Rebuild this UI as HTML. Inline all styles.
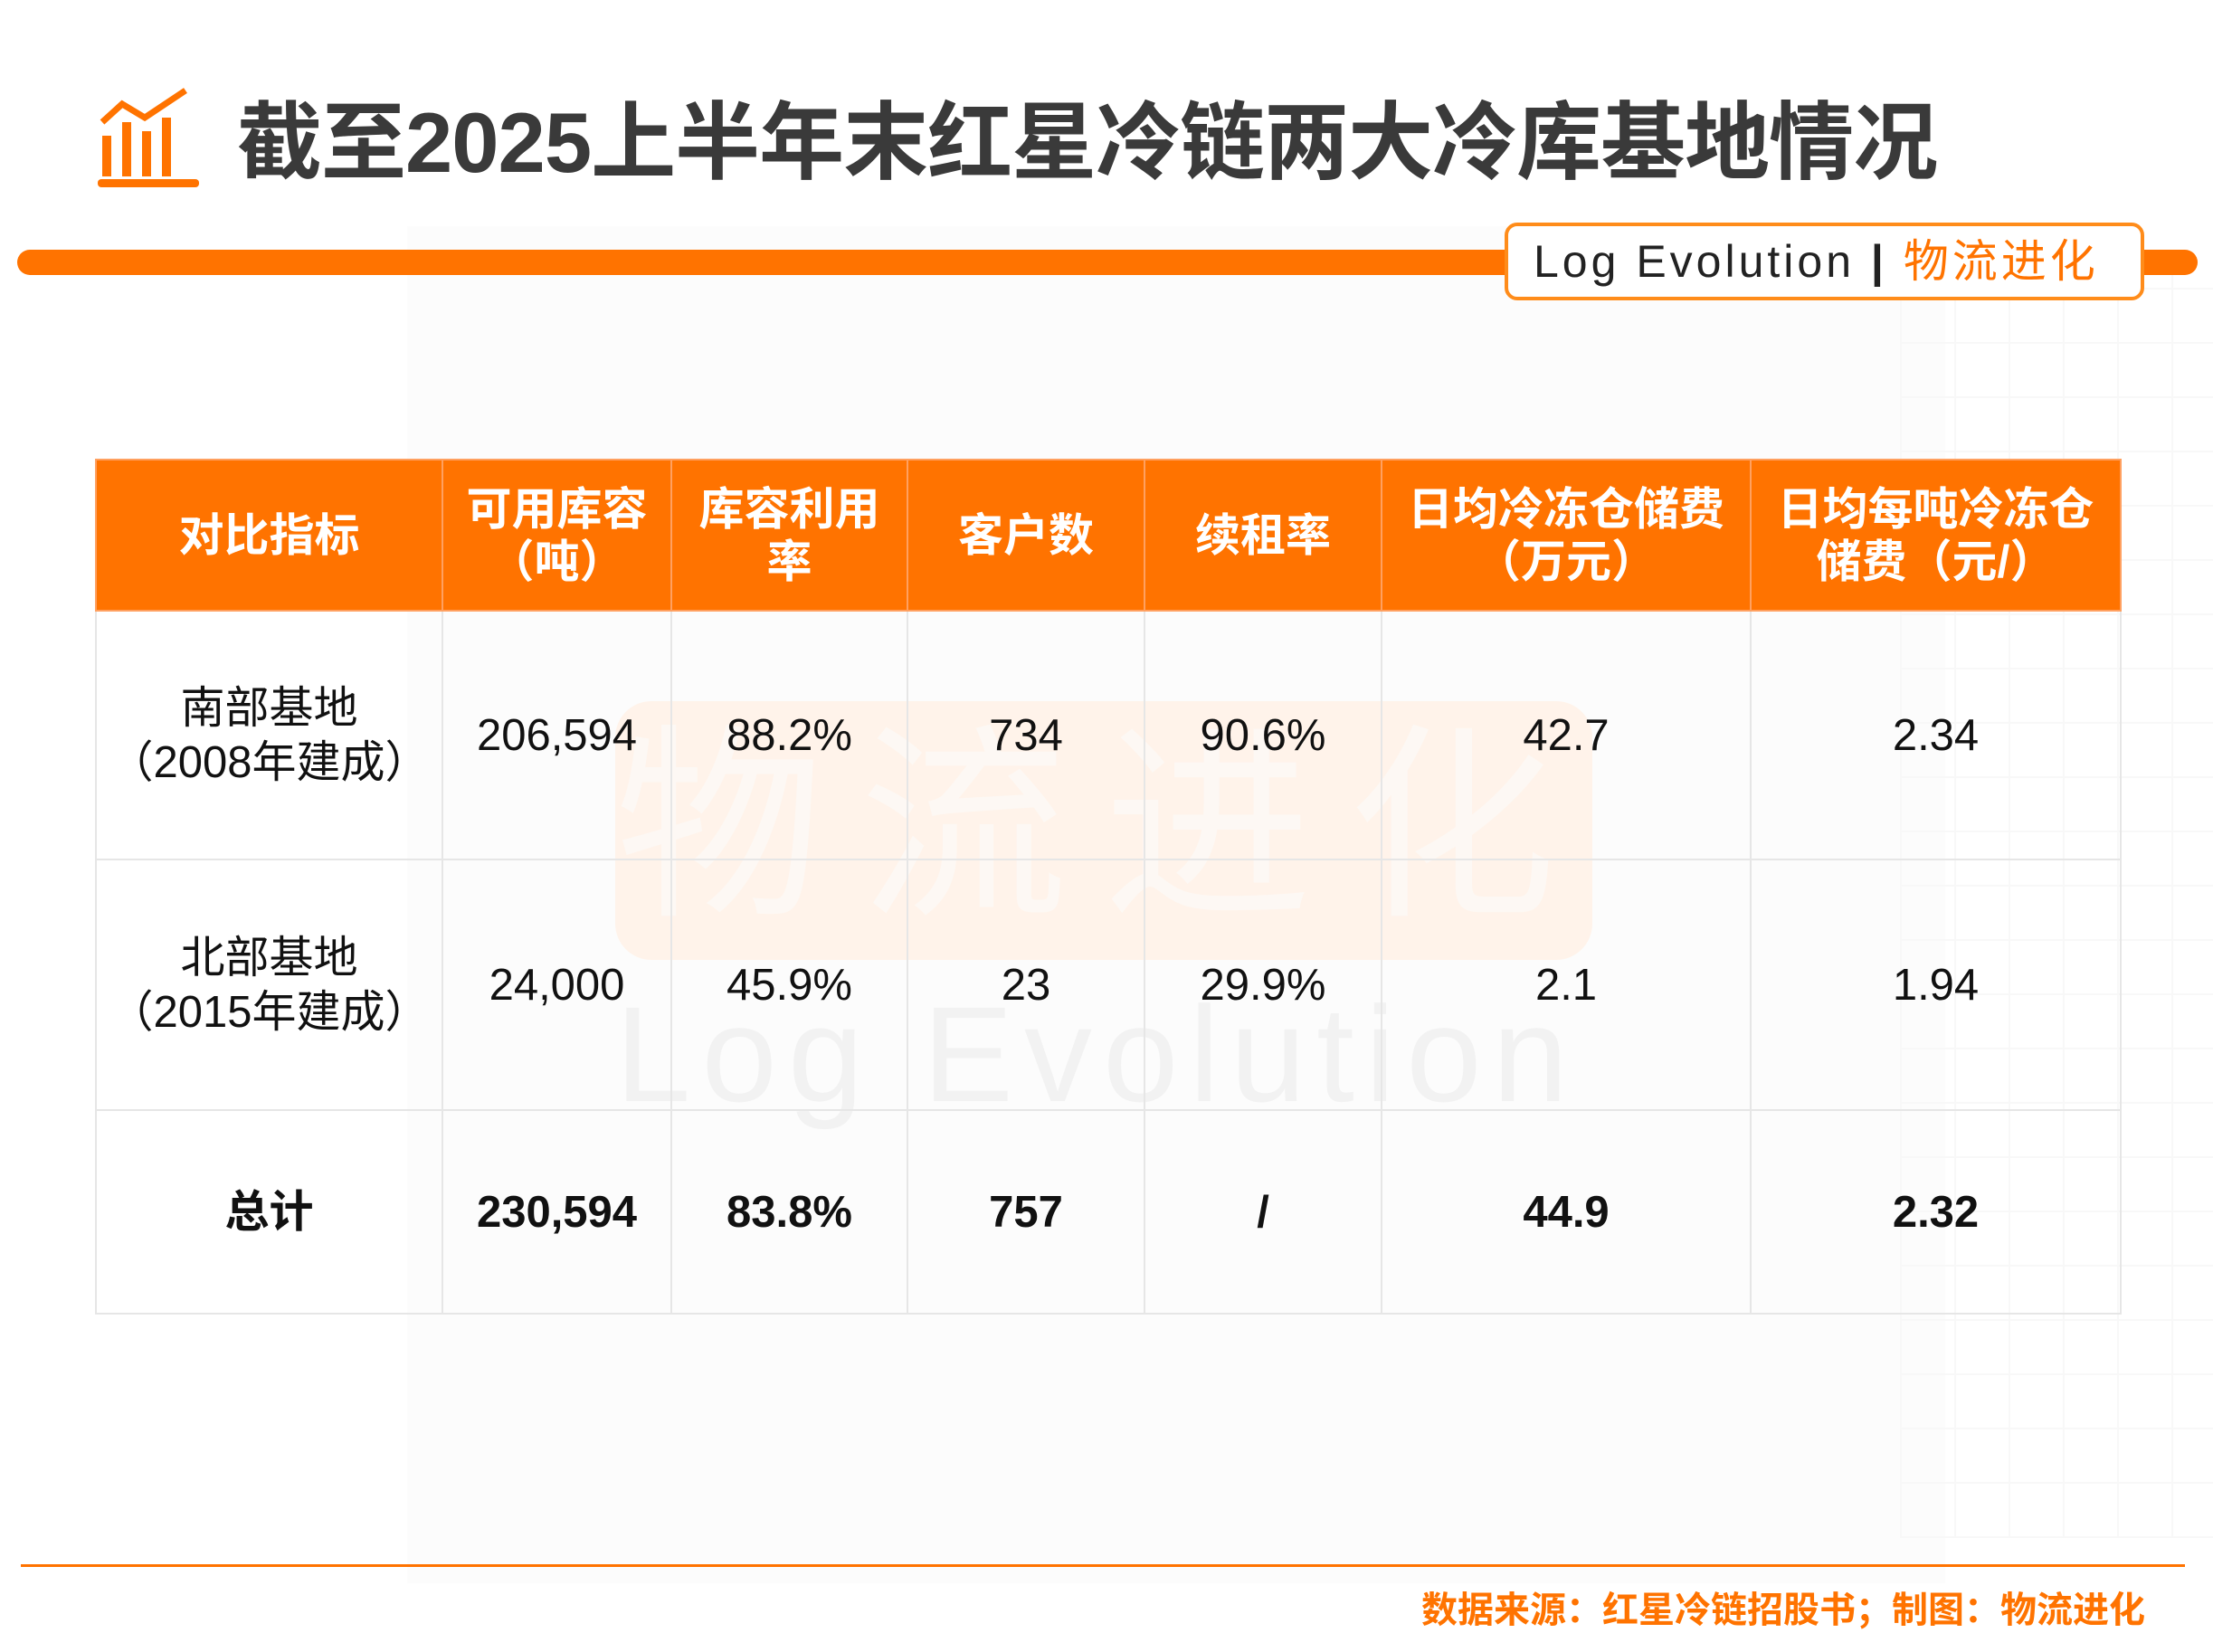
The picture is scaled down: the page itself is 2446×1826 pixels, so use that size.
<!DOCTYPE html>
<html><head><meta charset="utf-8"><style>
*{margin:0;padding:0;box-sizing:border-box}
body{width:2446px;height:1826px;background:#fff;position:relative;overflow:hidden;font-family:"Liberation Sans","Noto Sans CJK SC",sans-serif}
.abs{position:absolute}
table{position:absolute;left:105px;top:507px;width:2238px;border-collapse:collapse;table-layout:fixed}
td,th{text-align:center;vertical-align:middle;border:2px solid #e6e6e6}
th{background:#ff7300;color:#fff;font-weight:bold;font-size:50px;line-height:58px;height:167px;border-color:#ffa060}
td{font-size:49px;line-height:60px;color:#111}
tr.b td{font-weight:bold}
</style></head><body>
<div class="abs" style="left:450px;top:250px;width:1700px;height:1500px;background:#fcfcfc"></div>
<div class="abs" style="left:2100px;top:300px;width:346px;height:1400px;background:repeating-linear-gradient(0deg,#f8f8f8 0 2px,transparent 2px 60px),repeating-linear-gradient(90deg,#f8f8f8 0 2px,transparent 2px 60px)"></div>
<svg class="abs" style="left:105px;top:95px" width="125" height="115" viewBox="0 0 125 115">
<rect x="8" y="55" width="10" height="45" fill="#ff7300"/><rect x="30" y="40" width="10" height="60" fill="#ff7300"/><rect x="52" y="50" width="10" height="50" fill="#ff7300"/><rect x="74" y="35" width="10" height="65" fill="#ff7300"/>
<polyline points="8,40 30,20 55,35 100,5" stroke="#ff7300" stroke-width="7" fill="none"/>
<rect x="3" y="103" width="112" height="9" rx="4" fill="#ff7300"/></svg>
<div class="abs" style="left:262px;top:98px;font-size:94px;font-weight:bold;color:#3a3a3a;line-height:120px;letter-spacing:-1px;white-space:nowrap">截至2025上半年末红星冷链两大冷库基地情况</div>
<div class="abs" style="left:19px;top:276px;width:2410px;height:28px;background:#ff7300;border-radius:14px"></div>
<div class="abs" style="left:1663px;top:246px;width:707px;height:86px;background:#fff;border:4px solid #ff8c1a;border-radius:14px;font-size:50px;line-height:78px;padding-left:28px;color:#222;white-space:nowrap;letter-spacing:4px">Log Evolution <b style="color:#222">|</b> <span style="color:#ff7300">物流进化</span></div>
<div class="abs" style="left:680px;top:775px;width:1080px;height:286px;background:#fff3ea;border-radius:40px"></div>
<div class="abs" style="left:680px;top:770px;width:1100px;font-size:230px;line-height:290px;color:#fdf8f4;letter-spacing:40px;white-space:nowrap">物流进化</div>
<div class="abs" style="left:680px;top:1080px;font-size:150px;line-height:170px;color:#f2f2f2;letter-spacing:12px;white-space:nowrap">Log Evolution</div>
<table>
<colgroup><col style="width:383px"><col style="width:253px"><col style="width:261px"><col style="width:262px"><col style="width:262px"><col style="width:408px"><col style="width:409px"></colgroup>
<tr><th>对比指标</th><th>可用库容<br>（吨）</th><th>库容利用<br>率</th><th>客户数</th><th>续租率</th><th>日均冷冻仓储费<br>（万元）</th><th>日均每吨冷冻仓<br>储费（元/）</th></tr>
<tr style="height:275px"><td>南部基地<br>（2008年建成）</td><td>206,594</td><td>88.2%</td><td>734</td><td>90.6%</td><td>42.7</td><td>2.34</td></tr>
<tr style="height:277px"><td>北部基地<br>（2015年建成）</td><td>24,000</td><td>45.9%</td><td>23</td><td>29.9%</td><td>2.1</td><td>1.94</td></tr>
<tr class="b" style="height:225px"><td>总计</td><td>230,594</td><td>83.8%</td><td>757</td><td>/</td><td>44.9</td><td>2.32</td></tr>
</table>
<div class="abs" style="left:23px;top:1729px;width:2392px;height:3px;background:#ff7300"></div>
<div class="abs" style="right:75px;top:1754px;font-size:40px;line-height:52px;font-weight:bold;color:#ff7300;white-space:nowrap">数据来源：红星冷链招股书；制图：物流进化</div>
</body></html>
